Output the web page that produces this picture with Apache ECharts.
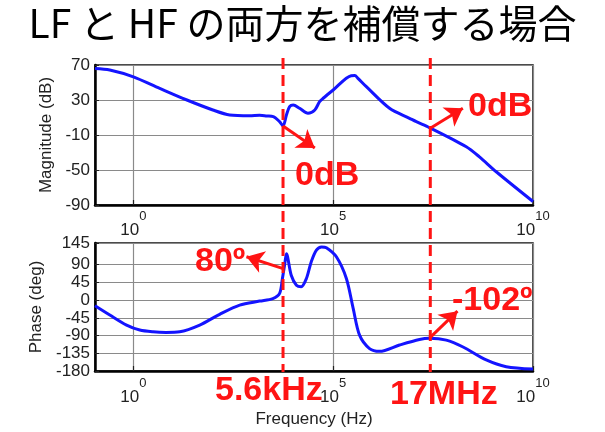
<!DOCTYPE html>
<html><head><meta charset="utf-8">
<script src="https://cdn.jsdelivr.net/npm/echarts@6/dist/echarts.min.js"></script>
<style>html,body{margin:0;padding:0;background:#fff}#c{width:605px;height:432px}</style>
</head><body><div id="c"></div>
<script>
const titleText = 'LF と HF の両方を補償する場合';
// log10(frequency in Hz)
const magFreqExp = [-0.96, -0.59, 0, 0.66, 1.34, 1.99, 2.41, 2.91, 3.16, 3.34, 3.5, 3.66, 3.745, 3.83, 3.91, 4.0, 4.16, 4.37, 4.54, 4.66, 4.75, 5.0, 5.45, 5.54, 5.62, 5.83, 6.41, 6.91, 7.08, 7.41, 8.33, 8.66, 9.08, 10];
const magDb =      [66, 64.3, 56.5, 43.3, 30, 18.6, 12.9, 12, 12.5, 11.7, 11, 5.2, 0.3, 12.9, 22.4, 24.3, 20.5, 14.8, 18.6, 28.1, 32, 41.4, 57.8, 58, 54.8, 45.2, 20.5, 9.1, 5.2, -1.6, -23.4, -35, -52, -86];
const phFreqExp = [-0.96, -0.59, -0.17, 0.16, 0.49, 0.82, 1.16, 1.66, 2.16, 2.66, 3.16, 3.49, 3.66, 3.73, 3.79, 3.83, 3.95, 4.08, 4.2, 4.33, 4.45, 4.58, 4.71, 4.83, 5.08, 5.33, 5.5, 5.66, 5.91, 6.16, 6.66, 7.16, 7.41, 7.83, 8.25, 8.83, 9.33, 10];
const phDeg =     [-14.5, -38, -63.5, -76, -80.5, -82, -80.5, -63.5, -36, -12.7, -2.5, 4, 17, 55, 93, 118, 63, 38, 34, 55, 97, 127, 135, 133, 110, 55, -21, -89, -123, -130, -114, -100, -97, -101.6, -119, -152, -169, -175];
const magTicks = [70, 30, -10, -50, -90];
const phTicks = [145, 90, 45, 0, -45, -90, -135, -180];
const freqTickExp = [0, 5, 10];
const markerFreqExp = [3.745, 7.43];          // 5.6kHz, 17MHz
const markerLabels = ['5.6kHz', '17MHz'];
const magArrows = [[[3.745, 0.3], [4.54, -24.9]], [[7.45, -1.7], [8.245, 20.5]]];
const phArrows = [[[3.73, 80.5], [2.83, 110]], [[7.41, -96.5], [8.11, -28]]];
const annotTexts = ['0dB', '0dB', '80º', '-102º'];

const RED = '#ff1414';
const FONT = 'Liberation Sans';
const chart = echarts.init(document.getElementById('c'), null, {renderer: 'canvas'});

function xAxisDef(gi, withName) {
  return {
    type: 'value', gridIndex: gi, min: -0.96, max: 10,
    axisLine: {show: true, onZero: false, lineStyle: {color: '#000', width: 2.5}},
    axisTick: {show: true, inside: true, length: 5, customValues: freqTickExp, lineStyle: {color: '#222', width: 1.2}},
    splitLine: {show: true, lineStyle: {color: '#8a8a8a', width: 1.2}},
    axisLabel: {
      customValues: freqTickExp, margin: gi === 0 ? 5 : 6,
      formatter: v => '{b|10}{s|' + v + '}',
      rich: {
        b: {fontSize: 17, fontFamily: FONT, color: '#222', verticalAlign: 'bottom'},
        s: {fontSize: 13, fontFamily: FONT, color: '#222', verticalAlign: 'top', padding: [0, 0, 16, 0]}
      }
    },
    name: withName ? 'Frequency (Hz)' : '', nameLocation: 'middle', nameGap: 40,
    nameTextStyle: {fontSize: 17, fontFamily: FONT, color: '#222'}
  };
}
function arrowLines(list) {
  return list.map(a => [{coord: a[0]}, {coord: a[1]}]);
}

chart.setOption({
  animation: false,
  title: {text: titleText, left: 'center', top: -1,
    textStyle: {fontSize: 39, fontWeight: 'normal', color: '#000', fontFamily: 'Noto Sans CJK JP'}},
  grid: [
    {left: 95, top: 65, width: 438, height: 140, show: true, borderColor: '#111', borderWidth: 1.5, backgroundColor: '#fff'},
    {left: 95, top: 243, width: 438, height: 128, show: true, borderColor: '#111', borderWidth: 1.5, backgroundColor: '#fff'}
  ],
  xAxis: [xAxisDef(0, false), xAxisDef(1, true)],
  yAxis: [
    {type: 'value', gridIndex: 0, min: -90, max: 70, interval: 40,
      axisLine: {show: true, onZero: false, lineStyle: {color: '#000', width: 2.5}},
      axisTick: {show: true, inside: true, length: 4, lineStyle: {color: '#222'}},
      splitLine: {show: true, lineStyle: {color: '#8a8a8a', width: 1.2}},
      axisLabel: {fontSize: 17, fontFamily: FONT, color: '#222', margin: 5, customValues: magTicks},
      name: 'Magnitude (dB)', nameLocation: 'middle', nameGap: 39,
      nameTextStyle: {fontSize: 17, fontFamily: FONT, color: '#222'}},
    {type: 'value', gridIndex: 1, min: -180, max: 145,
      axisLine: {show: true, onZero: false, lineStyle: {color: '#000', width: 2.5}},
      axisTick: {show: true, inside: true, length: 4, customValues: phTicks, lineStyle: {color: '#222'}},
      splitLine: {show: true, lineStyle: {color: '#8a8a8a', width: 1.2}},
      axisLabel: {fontSize: 17, fontFamily: FONT, color: '#222', margin: 5, customValues: phTicks},
      name: 'Phase (deg)', nameLocation: 'middle', nameGap: 48,
      nameTextStyle: {fontSize: 17, fontFamily: FONT, color: '#222'}}
  ],
  series: [
    {type: 'line', xAxisIndex: 0, yAxisIndex: 0, data: magFreqExp.map((x, i) => [x, magDb[i]]),
      showSymbol: false, smooth: 0.3, lineStyle: {color: '#1414ff', width: 3}, z: 3,
      markLine: {silent: true, symbol: ['none', 'arrow'], symbolSize: 17, label: {show: false},
        lineStyle: {color: RED, width: 3, type: 'solid'}, data: arrowLines(magArrows)}},
    {type: 'line', xAxisIndex: 1, yAxisIndex: 1, data: phFreqExp.map((x, i) => [x, phDeg[i]]),
      showSymbol: false, smooth: 0.3, lineStyle: {color: '#1414ff', width: 3}, z: 3,
      markLine: {silent: true, symbol: ['none', 'arrow'], symbolSize: 17, label: {show: false},
        lineStyle: {color: RED, width: 3, type: 'solid'}, data: arrowLines(phArrows)}}
  ]
});

// decorations: vertical dashed lines spanning both panels and annotation texts
const g = [];
markerFreqExp.forEach(fx => {
  const px = chart.convertToPixel({xAxisIndex: 0}, fx);
  g.push({type: 'line', z: 10, shape: {x1: px, y1: 58, x2: px, y2: 372},
    style: {stroke: RED, lineWidth: 3, lineDash: [11, 6]}});
});
const bold = 'bold 34px "' + FONT + '"';
const txt = (t, x, y) => ({type: 'text', z: 11, style: {text: t, x: x, y: y, font: bold, fill: RED, textVerticalAlign: 'middle'}});
g.push(txt(annotTexts[0], 295, 176));
g.push(txt(annotTexts[1], 468, 107));
g.push(txt(annotTexts[2], 195, 262));
g.push(txt(annotTexts[3], 452, 301));
g.push(txt(markerLabels[0], 215, 391));
g.push(txt(markerLabels[1], 390, 395));
chart.setOption({graphic: g});
</script></body></html>
